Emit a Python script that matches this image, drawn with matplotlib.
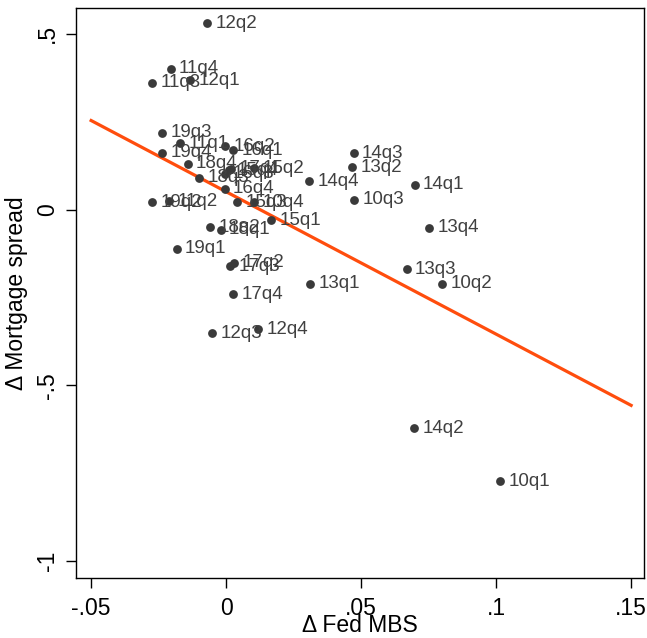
import numpy as np
import matplotlib.pyplot as plt

plt.rcParams['font.family'] = ['Liberation Sans', 'DejaVu Sans']

quarters = ['12q2', '11q4', '11q3', '12q1', '19q3', '11q1', '16q2', '16q1', '19q4', '18q4',
            '16q3', '15q4', '17q1', '15q2', '14q4', '18q3', '16q4', '19q2', '11q2', '15q3',
            '10q4', '15q1', '18q2', '18q1', '19q1', '17q2', '17q3', '17q4', '12q3', '12q4',
            '13q1', '14q3', '13q2', '10q3', '14q1', '13q4', '13q3', '10q2', '14q2', '10q1']
fed_mbs = [-0.0071, -0.0205, -0.0274, -0.0133, -0.0238, -0.0170, -0.0004, 0.0027, -0.0238, -0.0143,
           -0.0006, 0.0009, 0.0019, 0.0104, 0.0307, -0.0100, -0.0006, -0.0273, -0.0210, 0.0042,
           0.0104, 0.0166, -0.0059, -0.0020, -0.0183, 0.0030, 0.0015, 0.0027, -0.0052, 0.0119,
           0.0311, 0.0472, 0.0466, 0.0474, 0.0698, 0.0752, 0.0669, 0.0799, 0.0696, 0.1015]
mort_spread = [0.529, 0.400, 0.361, 0.368, 0.218, 0.188, 0.180, 0.168, 0.161, 0.130,
               0.101, 0.111, 0.116, 0.118, 0.080, 0.090, 0.059, 0.021, 0.023, 0.021,
               0.021, -0.031, -0.050, -0.057, -0.112, -0.151, -0.162, -0.241, -0.352, -0.341,
               -0.211, 0.160, 0.120, 0.028, 0.070, -0.052, -0.170, -0.211, -0.622, -0.773]

# fitted line end points
fit_x = [-0.05, 0.15]
fit_y = [0.253, -0.557]

x_ticks = [-0.05, 0, 0.05, 0.1, 0.15]
x_ticklabels = ['-.05', '0', '.05', '.1', '.15']
y_ticks = [-1, -0.5, 0, 0.5]
y_ticklabels = ['-1', '-.5', '0', '.5']

fig = plt.figure(figsize=(6.47, 6.38), dpi=100)
ax = fig.add_axes([0.1175, 0.094, 0.878, 0.894])

ax.plot(fit_x, fit_y, color='#ff4d0d', lw=2.3, zorder=2)

ax.scatter(fed_mbs, mort_spread, s=40, color='#3a3a3a', zorder=3, linewidths=0)
for q, x, y in zip(quarters, fed_mbs, mort_spread):
    ax.annotate(q, (x, y), xytext=(6, 0), textcoords='offset points',
                va='center', ha='left', fontsize=13.5, color='#404040', zorder=4)

ax.set_xlim(-0.0556, 0.1548)
ax.set_ylim(-1.048, 0.574)
ax.set_xticks(x_ticks)
ax.set_xticklabels(x_ticklabels)
ax.set_yticks(y_ticks)
ax.set_yticklabels(y_ticklabels, rotation=90, va='center')
ax.tick_params(axis='both', direction='out', length=7, width=1, labelsize=16.5, colors='black')
ax.tick_params(axis='x', pad=7)
ax.tick_params(axis='y', pad=5)
for s in ax.spines.values():
    s.set_linewidth(1)
    s.set_color('black')

ax.set_xlabel('\u0394 Fed MBS', fontsize=16.5, labelpad=-5)
ax.set_ylabel('\u0394 Mortgage spread', fontsize=16.5, labelpad=6)

fig.savefig('out.png', dpi=100)
